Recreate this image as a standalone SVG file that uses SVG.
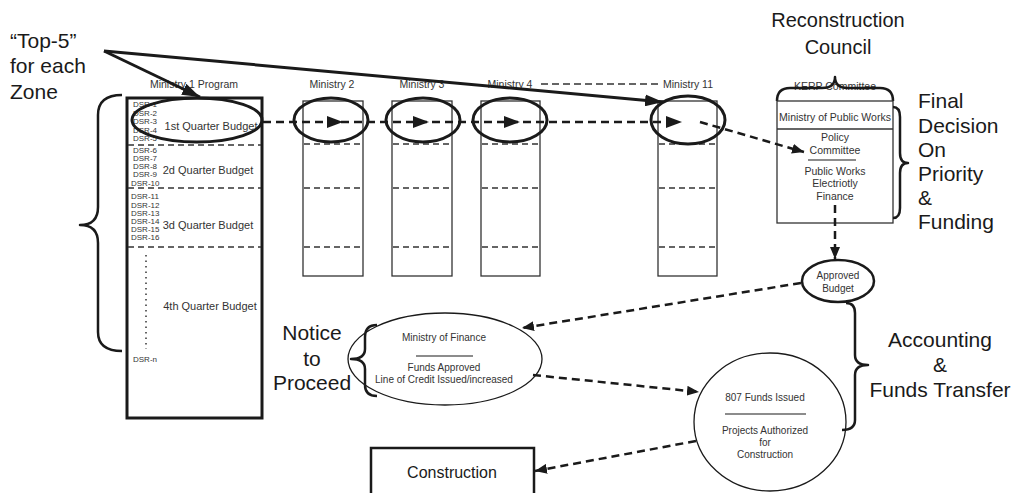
<svg xmlns="http://www.w3.org/2000/svg" width="1016" height="493" viewBox="0 0 1016 493">
  <defs>
    <marker id="arrow" viewBox="0 0 12 10" refX="12" refY="5" markerWidth="12" markerHeight="10" markerUnits="userSpaceOnUse" orient="auto">
      <path d="M0,0 L12,5 L0,10 Z" fill="#1a1a1a"/>
    </marker>
    <marker id="arrowBig" viewBox="0 0 18 12" refX="18" refY="6" markerWidth="18" markerHeight="12" markerUnits="userSpaceOnUse" orient="auto">
      <path d="M0,0 L18,6 L0,12 Z" fill="#1a1a1a"/>
    </marker>
  </defs>
  <style>
    .sm { font-family: "Liberation Sans", Arial, sans-serif; font-size: 10.5px; fill: #333; }
    .xs { font-family: "Liberation Sans", Arial, sans-serif; font-size: 8px; fill: #333; }
    .md { font-family: "Liberation Sans", Arial, sans-serif; font-size: 11px; fill: #333; }
    .lg { font-family: "Liberation Sans", Arial, sans-serif; font-size: 21px; fill: #1a1a1a; }
    .mid { text-anchor: middle; }
    .col { fill: #fff; stroke: #333; stroke-width: 1.3; }
    .div { stroke: #333; stroke-width: 1.3; stroke-dasharray: 6 4; fill: none; }
    .ring { fill: none; stroke: #1a1a1a; stroke-width: 3; }
    .thin { fill: #fff; stroke: #1a1a1a; stroke-width: 1.3; }
    .brace { fill: none; stroke: #1a1a1a; stroke-width: 2.5; stroke-linejoin: round; }
    .flow { fill: none; stroke: #1a1a1a; stroke-width: 2.5; stroke-dasharray: 8 5; }
    .solid { fill: none; stroke: #1a1a1a; stroke-width: 3; }
    .rule { stroke: #1a1a1a; stroke-width: 1.2; }
  </style>
  <rect width="1016" height="493" fill="#fff"/>

  <!-- Zone caption -->
  <g id="top5">
    <text class="lg" x="10" y="48">“Top-5”</text>
    <text class="lg" x="10" y="73">for each</text>
    <text class="lg" x="10" y="99">Zone</text>
  </g>

  <!-- Ministry 1 program with quarterly budgets -->
  <g id="ministry1">
    <text class="sm mid" x="194" y="88">Ministry 1 Program</text>
    <rect x="127" y="98" width="135" height="320" fill="#fff" stroke="#1a1a1a" stroke-width="3"/>
    <line class="div" x1="128" y1="145" x2="261" y2="145"/>
    <line class="div" x1="128" y1="188" x2="261" y2="188"/>
    <line class="div" x1="128" y1="247" x2="261" y2="247"/>
    <text class="xs" x="133" y="107">DSR-1</text>
    <text class="xs" x="133" y="116">DSR-2</text>
    <text class="xs" x="133" y="124">DSR-3</text>
    <text class="xs" x="133" y="133">DSR-4</text>
    <text class="xs" x="133" y="141">DSR-5</text>
    <text class="xs" x="133" y="153">DSR-6</text>
    <text class="xs" x="133" y="161">DSR-7</text>
    <text class="xs" x="133" y="169">DSR-8</text>
    <text class="xs" x="133" y="177">DSR-9</text>
    <text class="xs" x="131" y="186">DSR-10</text>
    <text class="xs" x="131" y="199">DSR-11</text>
    <text class="xs" x="131" y="208">DSR-12</text>
    <text class="xs" x="131" y="216">DSR-13</text>
    <text class="xs" x="131" y="224">DSR-14</text>
    <text class="xs" x="131" y="232">DSR-15</text>
    <text class="xs" x="131" y="240">DSR-16</text>
    <line x1="146" y1="255" x2="146" y2="349" stroke="#333" stroke-width="1.5" stroke-dasharray="1.5 4"/>
    <text class="xs" x="133" y="362">DSR-n</text>
    <text class="md mid" x="211" y="130">1st Quarter Budget</text>
    <text class="md mid" x="208" y="174">2d Quarter Budget</text>
    <text class="md mid" x="208" y="229">3d Quarter Budget</text>
    <text class="md mid" x="210" y="310">4th Quarter Budget</text>
    <ellipse class="ring" cx="197" cy="120" rx="65" ry="22"/>
  </g>

  <!-- Program brace -->
  <path id="programBrace" class="brace" d="M122,95 Q98,95 98,115 L98,207 Q98,225 80,225 Q98,225 98,243 L98,332 Q98,351 122,351"/>

  <!-- Other ministries -->
  <g id="ministry2">
    <text class="sm mid" x="332" y="88">Ministry 2</text>
    <rect class="col" x="303" y="101" width="60" height="175"/>
    <line class="div" x1="304" y1="144" x2="362" y2="144"/>
    <line class="div" x1="304" y1="188" x2="362" y2="188"/>
    <line class="div" x1="304" y1="247" x2="362" y2="247"/>
  </g>
  <g id="ministry3">
    <text class="sm mid" x="422" y="88">Ministry 3</text>
    <rect class="col" x="392" y="101" width="60" height="175"/>
    <line class="div" x1="393" y1="144" x2="451" y2="144"/>
    <line class="div" x1="393" y1="188" x2="451" y2="188"/>
    <line class="div" x1="393" y1="247" x2="451" y2="247"/>
  </g>
  <g id="ministry4">
    <text class="sm mid" x="510" y="88">Ministry 4</text>
    <rect class="col" x="481" y="101" width="59" height="175"/>
    <line class="div" x1="482" y1="144" x2="539" y2="144"/>
    <line class="div" x1="482" y1="188" x2="539" y2="188"/>
    <line class="div" x1="482" y1="247" x2="539" y2="247"/>
  </g>
  <line id="ministryRange" x1="541" y1="84" x2="660" y2="84" stroke="#333" stroke-width="1.3" stroke-dasharray="7 4"/>
  <g id="ministry11">
    <text class="sm mid" x="688" y="88">Ministry 11</text>
    <rect class="col" x="658" y="101" width="59" height="175"/>
    <line class="div" x1="659" y1="144" x2="716" y2="144"/>
    <line class="div" x1="659" y1="188" x2="716" y2="188"/>
    <line class="div" x1="659" y1="247" x2="716" y2="247"/>
  </g>

  <!-- Reconstruction council / KERP committee -->
  <g id="council">
    <text class="lg mid" x="838" y="27" style="font-size:20px">Reconstruction</text>
    <text class="lg mid" x="838" y="54" style="font-size:20px">Council</text>
    <text class="sm mid" x="835" y="90">KERP Committee</text>
    <path class="brace" d="M777,101 Q777,88 790,88 L822,88 Q835,88 835,77 Q835,88 848,88 L880,88 Q893,88 893,101"/>
  </g>
  <g id="kerp">
    <rect x="777" y="101" width="116" height="122" fill="#fff" stroke="#333" stroke-width="1.3"/>
    <line x1="777" y1="129" x2="893" y2="129" stroke="#333" stroke-width="1.3"/>
    <text class="sm mid" x="835" y="121">Ministry of Public Works</text>
    <text class="sm mid" x="835" y="141">Policy</text>
    <text class="sm mid" x="835" y="154">Committee</text>
    <line class="rule" x1="808" y1="160" x2="856" y2="160"/>
    <text class="sm mid" x="835" y="175">Public Works</text>
    <text class="sm mid" x="835" y="187">Electriotly</text>
    <text class="sm mid" x="835" y="200">Finance</text>
  </g>
  <g id="finalDecision">
    <path class="brace" d="M893,107 Q900,107 900,117 L900,153 Q900,163 908,163 Q900,163 900,173 L900,208 Q900,218 893,218"/>
    <text class="lg" x="918" y="108">Final</text>
    <text class="lg" x="918" y="133">Decision</text>
    <text class="lg" x="918" y="157">On</text>
    <text class="lg" x="918" y="181">Priority</text>
    <text class="lg" x="918" y="205">&amp;</text>
    <text class="lg" x="918" y="229">Funding</text>
  </g>

  <!-- Approved budget -->
  <g id="approvedBudget">
    <ellipse cx="838" cy="281" rx="36" ry="21" fill="#fff" stroke="#1a1a1a" stroke-width="2.5"/>
    <text class="sm mid" x="838" y="279" style="font-size:10px">Approved</text>
    <text class="sm mid" x="838" y="292" style="font-size:10px">Budget</text>
  </g>

  <!-- Ministry of finance -->
  <g id="ministryFinance">
    <ellipse class="thin" cx="445" cy="359" rx="97" ry="46"/>
    <text class="sm mid" x="444" y="341" style="font-size:10px">Ministry of Finance</text>
    <line class="rule" x1="416" y1="356" x2="473" y2="356"/>
    <text class="sm mid" x="444" y="371" style="font-size:10px">Funds Approved</text>
    <text class="sm mid" x="444" y="383" style="font-size:10px">Line of Credit Issued/increased</text>
    <path class="brace" d="M377,325 Q365,325 365,337 L365,349 Q365,359 351,359 Q365,359 365,369 L365,385 Q365,396 377,396"/>
    <text class="lg mid" x="312" y="340">Notice</text>
    <text class="lg mid" x="312" y="366">to</text>
    <text class="lg mid" x="312" y="390">Proceed</text>
  </g>

  <!-- Funds issued -->
  <g id="fundsIssued">
    <ellipse class="thin" cx="770" cy="422" rx="76" ry="69"/>
    <text class="sm mid" x="765" y="401" style="font-size:10px">807 Funds Issued</text>
    <line class="rule" x1="725" y1="414" x2="806" y2="414"/>
    <text class="sm mid" x="765" y="434" style="font-size:10px">Projects Authorized</text>
    <text class="sm mid" x="765" y="446" style="font-size:10px">for</text>
    <text class="sm mid" x="765" y="458" style="font-size:10px">Construction</text>
  </g>
  <g id="accounting">
    <path class="brace" d="M846,303 Q855,303 855,313 L855,355 Q855,365 868,365 Q855,365 855,375 L855,420 Q855,430 842,430"/>
    <text class="lg mid" x="940" y="347">Accounting</text>
    <text class="lg mid" x="940" y="372">&amp;</text>
    <text class="lg mid" x="940" y="397">Funds Transfer</text>
  </g>

  <!-- Construction -->
  <g id="construction">
    <rect x="371" y="448" width="163" height="52" fill="#fff" stroke="#1a1a1a" stroke-width="2.5"/>
    <text class="lg mid" x="452" y="478" style="font-size:16px">Construction</text>
  </g>

  <!-- Ministry ellipses -->
  <g id="selections">
    <ellipse class="ring" cx="331" cy="120" rx="37" ry="22"/>
    <ellipse class="ring" cx="423" cy="120" rx="37" ry="22"/>
    <ellipse class="ring" cx="510" cy="120" rx="37" ry="22"/>
    <ellipse class="ring" cx="688" cy="120" rx="37" ry="24"/>
  </g>

  <!-- Connectors -->
  <g id="connectors">
    <line class="flow" x1="263" y1="122" x2="667" y2="122"/>
    <path d="M327,116 L343,122 L327,128 Z" fill="#1a1a1a"/>
    <path d="M413,116 L429,122 L413,128 Z" fill="#1a1a1a"/>
    <path d="M504,116 L520,122 L504,128 Z" fill="#1a1a1a"/>
    <path d="M666,116 L682,122 L666,128 Z" fill="#1a1a1a"/>
    <line class="flow" x1="700" y1="122" x2="804" y2="152" marker-end="url(#arrow)"/>
    <line class="flow" x1="835" y1="205" x2="835" y2="259" marker-end="url(#arrow)"/>
    <line class="flow" x1="801" y1="283" x2="522" y2="328" marker-end="url(#arrow)"/>
    <line class="flow" x1="533" y1="375" x2="699" y2="392" marker-end="url(#arrow)"/>
    <line class="flow" x1="696" y1="441" x2="535" y2="471" marker-end="url(#arrow)"/>
    <line class="solid" x1="104" y1="51" x2="200" y2="97" marker-end="url(#arrowBig)"/>
    <line class="solid" x1="104" y1="51" x2="663" y2="102" marker-end="url(#arrowBig)"/>
  </g>
</svg>
